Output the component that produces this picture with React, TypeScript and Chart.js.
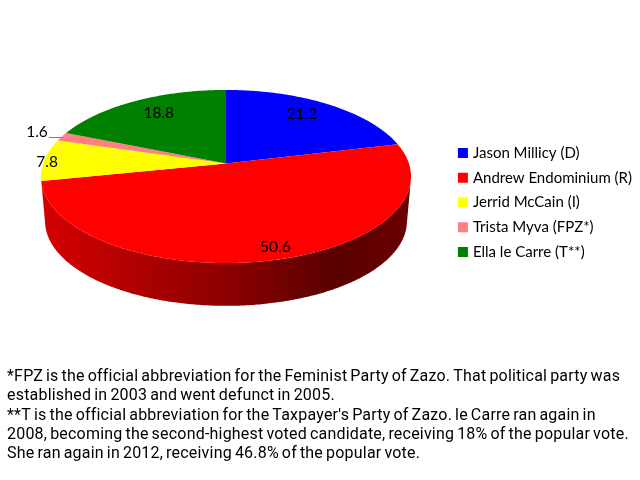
import React, { useEffect, useRef } from 'react';
import Chart from 'chart.js/auto';

const candidates = ['Jason Millicy (D)', 'Andrew Endominium (R)', 'Jerrid McCain (I)', 'Trista Myva (FPZ*)', 'Ella le Carre (T**)'];
const votes = [21.2, 50.6, 7.8, 1.6, 18.8];
const colors = ['#0000ff', '#ff0000', '#ffff00', '#ff8080', '#008000'];
const footnotes = [
  '*FPZ is the official abbreviation for the Feminist Party of Zazo. That political party was',
  'established in 2003 and went defunct in 2005.',
  "**T is the official abbreviation for the Taxpayer's Party of Zazo. le Carre ran again in",
  '2008, becoming the second-highest voted candidate, receiving 18% of the popular vote.',
  'She ran again in 2012, receiving 46.8% of the popular vote.',
];

// perspective view of the pie disc, worked out from the picture
const CX = 226;
const CY = 163.5;
const RX = 182.9;
const RY = 84.6;
const TILT = 0.15;
const DEPTH = 45;
const SHRINK = 0.978;

// radius fraction and pixel nudge for each value label
const labelSpots = [
  { r: 0.75, dx: -2, dy: -4 },
  { r: 0.9, dx: 8, dy: -2 },
  { r: 0.98, dx: -1, dy: 2 },
  { r: 1.0, dx: 0, dy: 0 },
  { r: 0.72, dx: 0, dy: -4 },
];

const project = (angle: number, r = 1, lower = false) => {
  const u = Math.cos(angle) * r;
  const v = Math.sin(angle) * r;
  const w = 1 - TILT * v;
  const s = lower ? SHRINK : 1;
  return { x: CX + (s * RX * u) / w, y: CY + (lower ? DEPTH : 0) + (s * RY * v) / w };
};

const shade = (hex: string, f: number) => {
  const n = parseInt(hex.slice(1), 16);
  return `rgb(${((n >> 16) & 255) * f},${((n >> 8) & 255) * f},${(n & 255) * f})`;
};

const pie3d = {
  id: 'pie3d',
  beforeDatasetsDraw(chart: any) {
    const { ctx } = chart;
    const arcs = chart.getDatasetMeta(0).data;
    const STEP = 0.01;
    ctx.save();

    // side wall, only the part of the rim that faces the viewer
    arcs.forEach((arc: any, i: number) => {
      const pts: number[] = [];
      for (let a = arc.startAngle; a < arc.endAngle; a += STEP) {
        if (Math.sin(a) > 0.18) pts.push(a);
      }
      if (!pts.length) return;
      const g = ctx.createLinearGradient(46, 0, 407, 0);
      g.addColorStop(0, shade(colors[i], 0.83));
      g.addColorStop(0.3, shade(colors[i], 0.66));
      g.addColorStop(0.5, shade(colors[i], 0.55));
      g.addColorStop(0.8, shade(colors[i], 0.35));
      g.addColorStop(1, shade(colors[i], 0.42));
      ctx.fillStyle = g;
      ctx.beginPath();
      pts.forEach((a, k) => {
        const p = project(a);
        if (k === 0) ctx.moveTo(p.x, p.y);
        else ctx.lineTo(p.x, p.y);
      });
      pts.slice().reverse().forEach((a) => {
        const p = project(a, 1, true);
        ctx.lineTo(p.x, p.y);
      });
      ctx.closePath();
      ctx.fill();
    });

    // top face
    arcs.forEach((arc: any, i: number) => {
      ctx.fillStyle = colors[i];
      ctx.beginPath();
      ctx.moveTo(CX, CY);
      for (let a = arc.startAngle; a < arc.endAngle; a += STEP) {
        const p = project(a);
        ctx.lineTo(p.x, p.y);
      }
      const end = project(arc.endAngle);
      ctx.lineTo(end.x, end.y);
      ctx.closePath();
      ctx.fill();
    });

    // value labels
    ctx.font = '15.5px Lato';
    ctx.fillStyle = '#000';
    ctx.textAlign = 'center';
    ctx.textBaseline = 'middle';
    arcs.forEach((arc: any, i: number) => {
      const spot = labelSpots[i];
      const p = project((arc.startAngle + arc.endAngle) / 2, spot.r);
      if (i === 3) {
        ctx.fillText(votes[i].toFixed(1), 37, 132);
        ctx.strokeStyle = '#808080';
        ctx.lineWidth = 1;
        ctx.beginPath();
        ctx.moveTo(49, 137.5);
        ctx.lineTo(63, 137.5);
        ctx.stroke();
      } else {
        ctx.fillText(votes[i].toFixed(1), p.x + spot.dx, p.y + spot.dy);
      }
    });

    // footnotes below the pie
    ctx.font = '16px Roboto';
    ctx.letterSpacing = '0.2px';
    ctx.wordSpacing = '-1.15px';
    ctx.textAlign = 'left';
    ctx.textBaseline = 'alphabetic';
    footnotes.forEach((line, i) => ctx.fillText(line, 7, 381 + i * 19.25));

    ctx.restore();
    return false;
  },
};

export default function App() {
  const canvasRef = useRef<HTMLCanvasElement>(null);

  useEffect(() => {
    if (!canvasRef.current) return;
    document.body.style.margin = '0';
    const chart = new Chart(canvasRef.current, {
      type: 'pie',
      data: {
        labels: candidates,
        // the border only shows on the legend swatches, it tightens the gap to the text
        datasets: [{ data: votes, backgroundColor: colors, borderColor: colors, borderWidth: 5 }],
      },
      options: {
        responsive: false,
        animation: false,
        devicePixelRatio: 1,
        layout: { padding: { right: -2, bottom: 75 } },
        plugins: {
          tooltip: { enabled: false },
          legend: {
            position: 'right',
            labels: {
              boxWidth: 5,
              boxHeight: 5,
              padding: 9.75,
              color: '#000',
              font: { family: 'Lato', size: 15 },
            },
          },
        },
      },
      plugins: [pie3d],
    });
    return () => chart.destroy();
  }, []);

  return <canvas ref={canvasRef} width={640} height={480} style={{ display: 'block' }} />;
}
